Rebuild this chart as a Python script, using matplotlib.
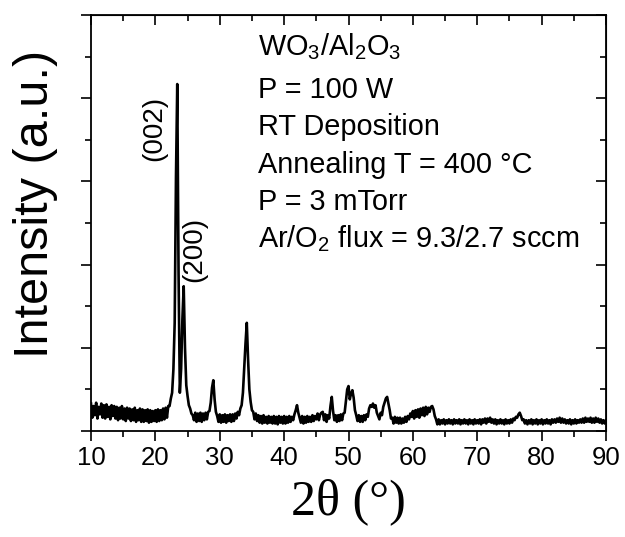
import numpy as np
import matplotlib
matplotlib.use("Agg")
import matplotlib.pyplot as plt
from matplotlib.ticker import MultipleLocator, NullFormatter

plt.rcParams['font.family'] = ['Liberation Sans', 'DejaVu Sans']
plt.rcParams['mathtext.fontset'] = 'custom'
plt.rcParams['mathtext.rm'] = 'Liberation Sans'
plt.rcParams['mathtext.it'] = 'Liberation Sans:italic'

# measured angles, 10..90 deg in 0.2 deg steps
two_theta = np.linspace(10, 90, 401)

# intensity (a.u.), one row = 2 deg
intensity = [
    0.33, 0.16, 0.30, 0.19, 0.34, 0.15, 0.29, 0.20, 0.33, 0.16,   # 10
    0.31, 0.15, 0.32, 0.17, 0.29, 0.14, 0.31, 0.18, 0.30, 0.15,   # 12
    0.29, 0.13, 0.28, 0.15, 0.30, 0.14, 0.27, 0.12, 0.28, 0.15,   # 14
    0.27, 0.12, 0.26, 0.13, 0.28, 0.11, 0.25, 0.13, 0.27, 0.11,   # 16
    0.26, 0.11, 0.25, 0.12, 0.26, 0.10, 0.25, 0.11, 0.24, 0.12,   # 18
    0.25, 0.11, 0.26, 0.12, 0.25, 0.13, 0.27, 0.14, 0.28, 0.16,   # 20
    0.30, 0.30, 0.39, 0.46, 0.74, 1.30, 3.05, 4.17, 1.90, 0.46,   # 22
    0.75, 1.35, 1.74, 1.00, 0.55, 0.42, 0.31, 0.27, 0.21, 0.19,   # 24
    0.13, 0.22, 0.11, 0.21, 0.12, 0.22, 0.11, 0.21, 0.13, 0.22,   # 26
    0.14, 0.23, 0.24, 0.34, 0.52, 0.61, 0.38, 0.23, 0.18, 0.11,   # 28
    0.20, 0.10, 0.19, 0.11, 0.20, 0.10, 0.19, 0.12, 0.20, 0.11,   # 30
    0.20, 0.12, 0.21, 0.15, 0.23, 0.19, 0.27, 0.31, 0.46, 0.76,   # 32
    1.05, 1.30, 0.86, 0.50, 0.35, 0.25, 0.23, 0.14, 0.21, 0.12,   # 34
    0.19, 0.10, 0.18, 0.09, 0.19, 0.10, 0.17, 0.09, 0.18, 0.10,   # 36
    0.17, 0.09, 0.18, 0.09, 0.17, 0.08, 0.18, 0.10, 0.17, 0.09,   # 38
    0.18, 0.09, 0.17, 0.10, 0.18, 0.11, 0.17, 0.13, 0.20, 0.25,   # 40
    0.31, 0.22, 0.16, 0.10, 0.18, 0.09, 0.17, 0.10, 0.18, 0.11,   # 42
    0.17, 0.11, 0.19, 0.12, 0.18, 0.14, 0.21, 0.13, 0.20, 0.22,   # 44
    0.23, 0.13, 0.20, 0.11, 0.19, 0.15, 0.30, 0.41, 0.24, 0.13,   # 46
    0.19, 0.11, 0.19, 0.12, 0.20, 0.13, 0.21, 0.22, 0.36, 0.50,   # 48
    0.54, 0.38, 0.45, 0.49, 0.40, 0.25, 0.19, 0.12, 0.19, 0.11,   # 50
    0.18, 0.11, 0.19, 0.13, 0.20, 0.17, 0.27, 0.31, 0.29, 0.33,   # 52
    0.28, 0.31, 0.22, 0.18, 0.14, 0.22, 0.19, 0.29, 0.34, 0.39,   # 54
    0.41, 0.33, 0.25, 0.15, 0.16, 0.09, 0.17, 0.10, 0.16, 0.09,   # 56
    0.16, 0.09, 0.15, 0.10, 0.17, 0.11, 0.18, 0.14, 0.21, 0.17,   # 58
    0.24, 0.15, 0.25, 0.17, 0.26, 0.16, 0.27, 0.19, 0.28, 0.18,   # 60
    0.29, 0.20, 0.28, 0.23, 0.29, 0.30, 0.26, 0.18, 0.14, 0.08,   # 62
    0.14, 0.08, 0.13, 0.09, 0.14, 0.08, 0.13, 0.09, 0.14, 0.09,   # 64
    0.13, 0.08, 0.14, 0.09, 0.13, 0.09, 0.14, 0.08, 0.13, 0.09,   # 66
    0.14, 0.09, 0.13, 0.08, 0.14, 0.09, 0.13, 0.08, 0.14, 0.09,   # 68
    0.13, 0.09, 0.14, 0.08, 0.14, 0.10, 0.15, 0.09, 0.15, 0.11,   # 70
    0.16, 0.10, 0.14, 0.09, 0.14, 0.08, 0.13, 0.09, 0.14, 0.09,   # 72
    0.13, 0.08, 0.14, 0.09, 0.13, 0.09, 0.14, 0.10, 0.15, 0.13,   # 74
    0.17, 0.16, 0.20, 0.22, 0.18, 0.13, 0.14, 0.09, 0.13, 0.08,   # 76
    0.13, 0.09, 0.14, 0.08, 0.13, 0.09, 0.14, 0.08, 0.13, 0.09,   # 78
    0.14, 0.08, 0.13, 0.09, 0.14, 0.09, 0.13, 0.08, 0.14, 0.10,   # 80
    0.14, 0.10, 0.15, 0.11, 0.16, 0.10, 0.15, 0.10, 0.14, 0.09,   # 82
    0.13, 0.09, 0.14, 0.08, 0.13, 0.09, 0.14, 0.09, 0.13, 0.10,   # 84
    0.14, 0.10, 0.15, 0.10, 0.16, 0.11, 0.15, 0.11, 0.16, 0.10,   # 86
    0.15, 0.10, 0.16, 0.11, 0.15, 0.10, 0.14, 0.09, 0.13, 0.09,   # 88
    0.13,                                                         # 90
]

peak_labels = ['(002)', '(200)']
peak_label_pos = [(19.9, 3.64), (26.1, 2.18)]

info_lines = [
    r'WO$_3$/Al$_2$O$_3$',
    'P = 100 W',
    'RT Deposition',
    'Annealing T = 400 °C',
    'P = 3 mTorr',
    r'Ar/O$_2$ flux = 9.3/2.7 sccm',
]

fig = plt.figure(figsize=(6.25, 5.37), dpi=100)
ax = fig.add_axes([91/625, 1-431/537, 515/625, 416/537])

ax.plot(two_theta, intensity, color='black', lw=1.9)

ax.set_xlim(10, 90)
ax.set_ylim(0, 5)
ax.xaxis.set_major_locator(MultipleLocator(10))
ax.xaxis.set_minor_locator(MultipleLocator(5))
ax.yaxis.set_major_locator(MultipleLocator(1))
ax.yaxis.set_minor_locator(MultipleLocator(0.5))
ax.yaxis.set_major_formatter(NullFormatter())
ax.tick_params(which='major', direction='out', length=7, width=1.2, labelsize=18.5, pad=4)
ax.tick_params(which='minor', direction='out', length=4, width=1.2)
for s in ax.spines.values():
    s.set_linewidth(1.3)

# inward ticks on top and right
top = ax.secondary_xaxis('top')
top.xaxis.set_major_locator(MultipleLocator(10))
top.xaxis.set_minor_locator(MultipleLocator(5))
top.tick_params(which='major', direction='in', length=7, width=1.2, labeltop=False)
top.tick_params(which='minor', direction='in', length=4, width=1.2)
right = ax.secondary_yaxis('right')
right.yaxis.set_major_locator(MultipleLocator(1))
right.yaxis.set_minor_locator(MultipleLocator(0.5))
right.tick_params(which='major', direction='in', length=7, width=1.2, labelright=False)
right.tick_params(which='minor', direction='in', length=4, width=1.2)

ax.set_xlabel('2θ (°)', fontsize=36, family='Liberation Serif', labelpad=6)
fig.text(36/625, 1-204/537, 'Intensity (a.u.)', rotation=90, fontsize=35,
         ha='center', va='center')

for lab, (px, py) in zip(peak_labels, peak_label_pos):
    ax.text(px, py, lab, rotation=90, fontsize=20, ha='center', va='center')

baselines = [55, 98, 135, 173, 210, 247]
for line, yb in zip(info_lines, baselines):
    ax.text((258-91)/515, (431-yb)/416, line, transform=ax.transAxes,
            fontsize=20.8, ha='left', va='baseline')

fig.savefig('out.png', dpi=100)
